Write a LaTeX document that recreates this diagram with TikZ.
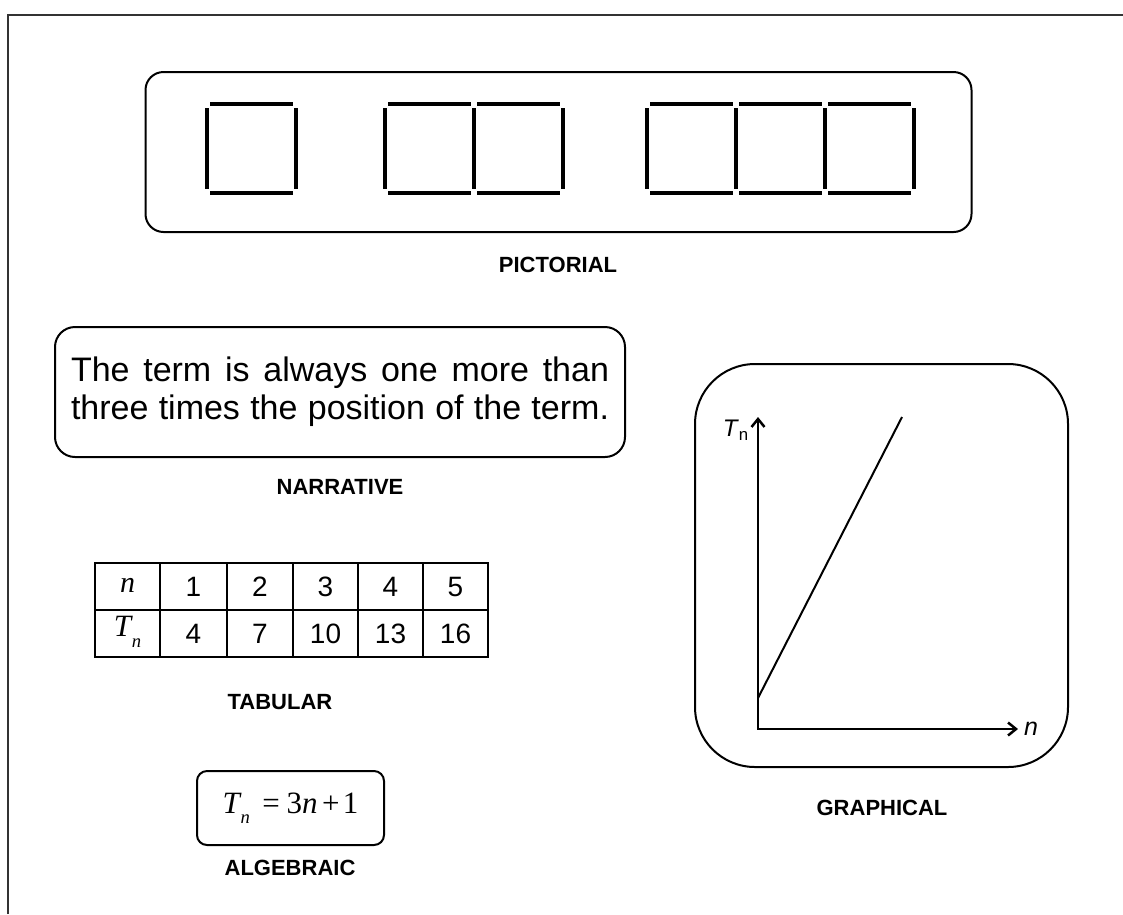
\documentclass[tikz,border=0pt]{standalone}
\usepackage{fontspec}
\setmainfont{Liberation Sans}
\newfontfamily\timesfont{Liberation Serif}
\usetikzlibrary{arrows.meta}
\newcommand{\tterm}{{\timesfont\itshape T\kern0.02em\raisebox{-0.34em}{\scalebox{0.6}{n}}}}
\tikzset{
  panel/.style={draw, line width=2pt, rounded corners=#1},
  panel/.default=15pt,
  caption/.style={font=\bfseries\fontsize{22}{25}\selectfont},
  stick/.style={line width=3.5pt},
  rule/.style={line width=2pt},
  cell/.style={font=\fontsize{28}{30}\selectfont},
  axis/.style={line width=2.5pt, {Straight Barb[length=8pt,width=13pt]}-{Straight Barb[length=8pt,width=13pt]}},
}

\begin{document}
\begin{tikzpicture}[x=1pt, y=-1pt]
\useasboundingbox (0,0) rectangle (1123,914);
% outer frame
\draw[line width=2.5pt, black!80] (8,914) -- (8,15) -- (1123,15);

% pictorial
\node[panel=18pt, minimum width=826pt, minimum height=160pt] (pictbox) at (558.5,152) {};
\foreach \x in {207,296,385,474,563,647,736,825,914}
  \draw[stick] (\x,108) -- (\x,189);
\foreach \x in {207,385,474,647,736,825} {
  \draw[stick] (\x+3,104) -- (\x+86,104);
  \draw[stick] (\x+3,193) -- (\x+86,193);
}
\node[caption] (pict) at (558,265) {PICTORIAL};

% narrative
\node[panel=20pt, minimum width=570pt, minimum height=130pt, align=left,
      font=\fontsize{34}{38}\selectfont] (narrbox) at (340,392)
  {\makebox[538pt][s]{The term is always one more than}\\
   \makebox[538pt][s]{three times the position of the term.}};
\node[caption] (narr) at (340,487) {NARRATIVE};

% tabular
\draw[rule] (95,563) rectangle (488,657);
\draw[rule] (95,610) -- (488,610);
\foreach \x in {160,227,293,358,423}
  \draw[rule] (\x,563) -- (\x,657);
\node[font=\timesfont\itshape\fontsize{30}{32}\selectfont] (hn) at (127.5,585) {n};
\node[font=\fontsize{31}{32}\selectfont] (ht) at (127.5,632) {\tterm};
\foreach \x/\a/\b [count=\i] in {193.5/1/4, 260/2/7, 325.5/3/10, 390.5/4/13, 455.5/5/16} {
  \node[cell] (top\i) at (\x,587) {\a};
  \node[cell] (bot\i) at (\x,634) {\b};
}
\node[caption] (tab) at (280,702) {TABULAR};

% algebraic
\node[panel=10pt, minimum width=187pt, minimum height=74pt,
      font=\timesfont\fontsize{31}{34}\selectfont] (algbox) at (290.5,808)
  {\tterm\hspace{0.4em}=\hspace{0.22em}3{\itshape n}\hspace{0.15em}+\hspace{0.1em}1};
\node[caption] (alg) at (290,868) {ALGEBRAIC};

% graphical
\node[panel=60pt, minimum width=373pt, minimum height=403pt] (graphbox) at (881.5,565.5) {};
\coordinate (O) at (758,729);
\coordinate (ytip) at (758,417);
\coordinate (xtip) at (1018,729);
\coordinate (start) at (758,698);
\coordinate (stop) at (902,417);
\draw[axis] (ytip) -- (O) -- (xtip);
\draw[rule] (start) -- (stop);
\node[anchor=east, inner sep=2pt, font=\fontsize{24}{26}\selectfont] (tlab) at (751,430) {\textit{T}\textsubscript{n}};
\node[anchor=west, inner sep=2pt, font=\fontsize{25}{26}\selectfont] (nlab) at (1022,729) {\textit{n}};
\node[caption] (graph) at (882,808) {GRAPHICAL};
\end{tikzpicture}
\end{document}
